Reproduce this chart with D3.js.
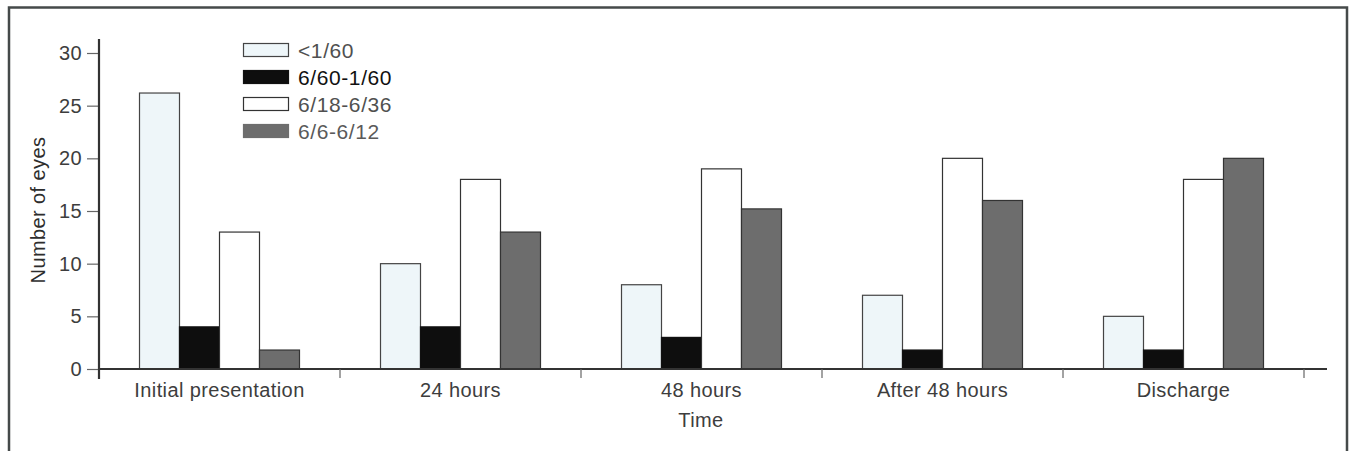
<!DOCTYPE html>
<html>
<head>
<meta charset="utf-8">
<script src="https://cdn.jsdelivr.net/npm/d3@7/dist/d3.min.js"></script>
<style>
  html, body { margin: 0; padding: 0; background: #fff; }
  svg { display: block; }
  text { font-family: "Liberation Sans", Arial, sans-serif; letter-spacing: 0.4px; }
</style>
</head>
<body>
<svg id="chart" width="1353" height="451"></svg>
<script>
const categories = ["Initial presentation", "24 hours", "48 hours", "After 48 hours", "Discharge"];
const seriesNames = ["<1/60", "6/60-1/60", "6/18-6/36", "6/6-6/12"];
const valuesLt160 = [26.2, 10, 8, 7, 5];
const values660to160 = [4, 4, 3, 1.8, 1.8];
const values618to636 = [13, 18, 19, 20, 18];
const values66to612 = [1.8, 13, 15.2, 16, 20];
const yTicks = [0, 5, 10, 15, 20, 25, 30];

const seriesValues = [valuesLt160, values660to160, values618to636, values66to612];
const fills = ["#eef6f9", "#0e0e0e", "#ffffff", "#6d6d6d"];
const strokes = ["#444", "#111", "#333", "#333"];
const legendTextColors = ["#505050", "#111", "#505050", "#5a5a5a"];

const svg = d3.select("#chart");

// frame
svg.append("path")
  .attr("d", "M9,460 L9,7.5 L1347,7.5 L1347,460")
  .attr("fill", "none").attr("stroke", "#454a4a").attr("stroke-width", 2.5);

const x0 = d3.scaleBand().domain(categories).range([99, 1304]).padding(0);
const x1 = d3.scaleBand().domain(d3.range(seriesNames.length)).range([40, x0.bandwidth() - 41]).padding(0);
const y = d3.scaleLinear().domain([0, 30]).range([369, 53]);

// bars
const groups = svg.append("g").selectAll("g").data(categories).join("g")
  .attr("transform", d => `translate(${x0(d)},0)`);
groups.selectAll("rect")
  .data((d, i) => seriesValues.map((s, k) => ({ k, v: s[i] })))
  .join("rect")
  .attr("x", d => x1(d.k) + 0.5)
  .attr("y", d => y(d.v))
  .attr("width", x1.bandwidth())
  .attr("height", d => y(0) - y(d.v))
  .attr("fill", d => fills[d.k])
  .attr("stroke", d => strokes[d.k])
  .attr("stroke-width", 1.2);

// y axis
const yAxis = d3.axisLeft(y).tickValues(yTicks).tickSize(11).tickPadding(5);
const gy = svg.append("g").attr("transform", "translate(98,0)").call(yAxis);
gy.select(".domain").remove();
gy.selectAll(".tick line").attr("stroke", "#666").attr("stroke-width", 1.2);
gy.selectAll(".tick text").attr("font-size", 20).attr("fill", "#3d3d3d")
  .style("font-family", "'Liberation Sans', Arial, sans-serif");
svg.append("line").attr("x1", 99).attr("x2", 99).attr("y1", 39).attr("y2", 379)
  .attr("stroke", "#333").attr("stroke-width", 2.2);

// x axis
svg.append("line").attr("x1", 99).attr("x2", 1327).attr("y1", 369).attr("y2", 369)
  .attr("stroke", "#333").attr("stroke-width", 2.2);
const gx = svg.append("g");
gx.selectAll("line.tk").data(categories).join("line")
  .attr("class", "tk")
  .attr("x1", d => x0(d) + x0.bandwidth()).attr("x2", d => x0(d) + x0.bandwidth())
  .attr("y1", 369).attr("y2", 378)
  .attr("stroke", "#666").attr("stroke-width", 1.2);
gx.selectAll("text").data(categories).join("text")
  .attr("x", d => x0(d) + x0.bandwidth() / 2)
  .attr("y", 397)
  .attr("text-anchor", "middle")
  .attr("font-size", 20).attr("fill", "#3d3d3d")
  .text(d => d);

// axis titles
svg.append("text").attr("x", 701).attr("y", 427).attr("text-anchor", "middle")
  .attr("font-size", 20).attr("fill", "#3d3d3d").text("Time");
svg.append("text").attr("transform", "translate(45,210) rotate(-90)")
  .attr("text-anchor", "middle").attr("font-size", 20).attr("fill", "#2d2d2d")
  .text("Number of eyes");

// legend
const leg = svg.append("g").selectAll("g").data(seriesNames).join("g")
  .attr("transform", (d, i) => `translate(243,${43 + i * 27})`);
leg.append("rect").attr("x", 0.5).attr("y", 0.5).attr("width", 45).attr("height", 13)
  .attr("fill", (d, i) => fills[i])
  .attr("stroke", (d, i) => i === 3 ? "#6d6d6d" : strokes[i]).attr("stroke-width", 1.2);
leg.append("text").attr("x", 55).attr("y", 14.5)
  .attr("font-size", 21).style("letter-spacing", "0.6px").attr("fill", (d, i) => legendTextColors[i])
  .text(d => d);
</script>
</body>
</html>
